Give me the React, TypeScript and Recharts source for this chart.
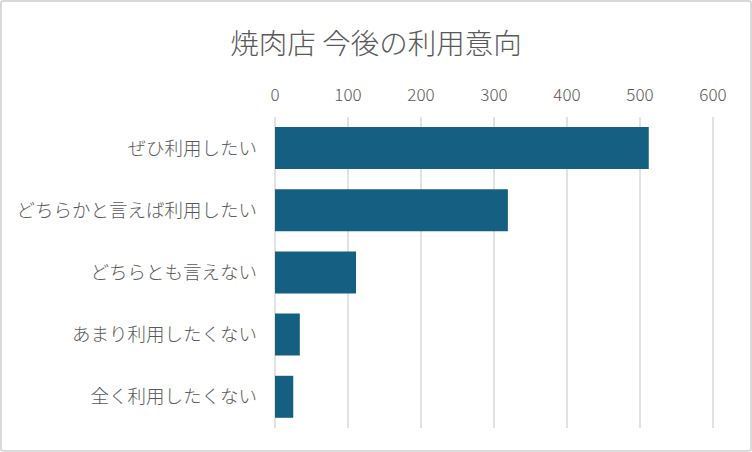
import { BarChart, Bar, XAxis, YAxis, CartesianGrid } from "recharts";

const categories = [
  "ぜひ利用したい",
  "どちらかと言えば利用したい",
  "どちらとも言えない",
  "あまり利用したくない",
  "全く利用したくない",
];
const counts = [512, 319, 111, 34, 25];
const xTicks = [0, 100, 200, 300, 400, 500, 600];

const data = categories.map((name, i) => ({ name, value: counts[i] }));

const FONT = '"Noto Sans CJK JP", "Noto Sans", sans-serif';
const TEXT = "#595959";

export default function App() {
  return (
    <div
      style={{
        position: "absolute",
        left: 0,
        top: 0,
        width: 752,
        height: 452,
        boxSizing: "border-box",
        border: "2px solid #D9D9D9",
        borderRadius: 3,
        background: "#fff",
        fontFamily: FONT,
      }}
    >
      <div
        style={{
          position: "absolute",
          left: 0,
          top: 20,
          width: "100%",
          textAlign: "center",
          fontSize: 28.5,
          fontWeight: 300,
          lineHeight: "40px",
          color: TEXT,
        }}
      >
        焼肉店 今後の利用意向
      </div>
      <div style={{ position: "absolute", left: -2, top: -2 }}>
        <BarChart
          width={752}
          height={452}
          data={data}
          layout="vertical"
          margin={{ top: 87, right: 39, bottom: 24, left: 0 }}
        >
          <CartesianGrid horizontal={false} stroke="#D9D9D9" strokeWidth={1.5} />
          <XAxis
            type="number"
            orientation="top"
            domain={[0, 600]}
            ticks={xTicks}
            height={30}
            axisLine={false}
            tickLine={false}
            tickSize={0}
            tickMargin={16}
            tick={{ fill: TEXT, fontSize: 17, fontFamily: FONT, fontWeight: 300 }}
          />
          <YAxis
            type="category"
            dataKey="name"
            width={275}
            axisLine={false}
            tickLine={false}
            tickSize={0}
            tickMargin={18}
            tick={{ fill: TEXT, fontSize: 18.5, fontFamily: FONT, fontWeight: 300 }}
          />
          <Bar dataKey="value" fill="#156082" barSize={42} isAnimationActive={false} />
        </BarChart>
      </div>
    </div>
  );
}
